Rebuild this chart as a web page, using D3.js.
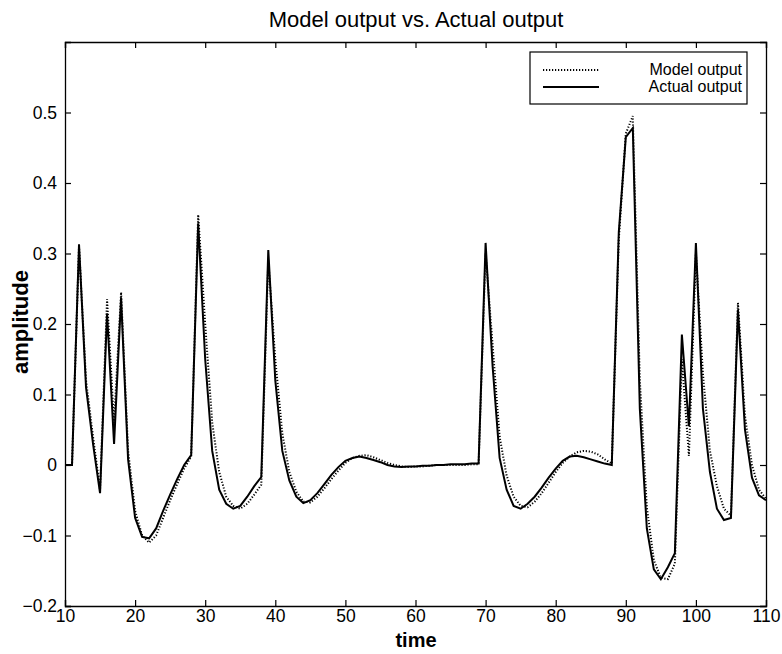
<!DOCTYPE html>
<html>
<head>
<meta charset="utf-8">
<script src="https://cdn.jsdelivr.net/npm/d3@7"></script>
<style>
  body { margin: 0; background: #fff; }
  text { font-family: "Liberation Sans", Arial, sans-serif; fill: #000; }
</style>
</head>
<body>
<svg id="chart" width="782" height="654"></svg>
<script>
const times = [10, 11, 12, 13, 14, 15, 16, 17, 18, 19, 20, 21, 22, 23, 24, 25, 26, 27, 28, 29,
    30, 31, 32, 33, 34, 35, 36, 37, 38, 39, 40, 41, 42, 43, 44, 45, 46, 47, 48, 49,
    50, 51, 52, 53, 54, 55, 56, 57, 58, 59, 60, 61, 62, 63, 64, 65, 66, 67, 68, 69,
    70, 71, 72, 73, 74, 75, 76, 77, 78, 79, 80, 81, 82, 83, 84, 85, 86, 87, 88, 89,
    90, 91, 92, 93, 94, 95, 96, 97, 98, 99, 100, 101, 102, 103, 104, 105, 106, 107, 108, 109, 110];

const actualOutput = [0, 0, 0.313, 0.11, 0.03, -0.04, 0.215, 0.03, 0.237, 0.008,
    -0.075, -0.102, -0.104, -0.09, -0.065, -0.042, -0.02, 0.0, 0.014, 0.343,
    0.15, 0.02, -0.035, -0.055, -0.062, -0.058, -0.045, -0.03, -0.017, 0.305,
    0.12, 0.02, -0.022, -0.045, -0.054, -0.05, -0.04, -0.027, -0.014, -0.003,
    0.006, 0.01, 0.012, 0.01, 0.007, 0.004, 0.0, -0.002, -0.003, -0.002,
    -0.002, -0.001, -0.001, 0.0, 0.0, 0.001, 0.001, 0.001, 0.002, 0.002,
    0.315, 0.14, 0.01, -0.035, -0.058, -0.062, -0.055, -0.045, -0.032, -0.018,
    -0.005, 0.006, 0.012, 0.013, 0.011, 0.008, 0.005, 0.002, 0.0, 0.33,
    0.465, 0.478, 0.08, -0.09, -0.148, -0.162, -0.145, -0.125, 0.185, 0.055,
    0.315, 0.08, -0.01, -0.062, -0.078, -0.075, 0.22, 0.05, -0.018, -0.043, -0.05];

const modelOutput = [0, 0, 0.31, 0.12, 0.04, -0.035, 0.235, 0.06, 0.245, 0.02,
    -0.065, -0.1, -0.11, -0.1, -0.075, -0.05, -0.027, -0.005, 0.012, 0.355,
    0.2, 0.06, -0.01, -0.045, -0.058, -0.062, -0.055, -0.042, -0.028, 0.29,
    0.15, 0.045, -0.01, -0.038, -0.052, -0.053, -0.045, -0.033, -0.02, -0.008,
    0.003, 0.01, 0.013, 0.014, 0.011, 0.007, 0.003, 0.0, -0.002, -0.003,
    -0.002, -0.002, -0.001, 0, 0, 0, 0, 0, 0.001, 0.001,
    0.3, 0.17, 0.04, -0.015, -0.045, -0.058, -0.06, -0.052, -0.04, -0.025,
    -0.01, 0.003, 0.012, 0.018, 0.02, 0.019, 0.015, 0.008, 0.002, 0.32,
    0.47, 0.495, 0.12, -0.06, -0.135, -0.16, -0.162, -0.14, 0.15, 0.013,
    0.3, 0.13, 0.02, -0.03, -0.062, -0.072, 0.23, 0.07, 0.0, -0.035, -0.048];

const xTicks = [10, 20, 30, 40, 50, 60, 70, 80, 90, 100, 110];
const yTicks = [-0.2, -0.1, 0, 0.1, 0.2, 0.3, 0.4, 0.5];
const seriesNames = ['Model output', 'Actual output'];

const svg = d3.select('#chart');
const m = {left: 65, right: 766, top: 42, bottom: 606};

const x = d3.scaleLinear().domain([10, 110]).range([m.left, m.right]);
const y = d3.scaleLinear().domain([-0.2, 0.6]).range([m.bottom, m.top]);

const fmt = d => d === 0 ? '0' : d3.format('.1f')(d).replace('-', '\u2212');

// bottom axis with inward ticks
const xAxis = svg.append('g')
    .attr('transform', `translate(0,${m.bottom})`)
    .call(d3.axisBottom(x).tickValues(xTicks).tickSize(-6).tickPadding(4).tickFormat(d3.format('d')));
// top mirror ticks
const xTop = svg.append('g')
    .attr('transform', `translate(0,${m.top})`)
    .call(d3.axisTop(x).tickValues(xTicks).tickSize(-6).tickFormat(''));
const yAxis = svg.append('g')
    .attr('transform', `translate(${m.left},0)`)
    .call(d3.axisLeft(y).tickValues(yTicks).tickSize(-6).tickPadding(8).tickFormat(fmt));
const yRight = svg.append('g')
    .attr('transform', `translate(${m.right},0)`)
    .call(d3.axisRight(y).tickValues(yTicks).tickSize(-6).tickFormat(''));

[xAxis, xTop, yAxis, yRight].forEach(g => {
    g.select('.domain').attr('stroke', '#000').attr('stroke-width', 1.3);
    g.selectAll('.tick line').attr('stroke', '#000').attr('stroke-width', 1.2);
    g.selectAll('text').attr('font-size', 17.5).style('font-family', '"Liberation Sans", Arial, sans-serif');
});

// lines
const line = d3.line()
    .x((d, i) => x(times[i]))
    .y(d => y(d));

svg.append('path')
    .datum(modelOutput)
    .attr('d', line)
    .attr('fill', 'none')
    .attr('stroke', '#000')
    .attr('stroke-width', 2)
    .attr('stroke-dasharray', '1.2,1.8');

svg.append('path')
    .datum(actualOutput)
    .attr('d', line)
    .attr('fill', 'none')
    .attr('stroke', '#000')
    .attr('stroke-width', 2);

// legend
const lg = svg.append('g');
lg.append('rect')
    .attr('x', 530).attr('y', 52).attr('width', 217).attr('height', 52)
    .attr('fill', '#fff').attr('stroke', '#000').attr('stroke-width', 1.2);
seriesNames.forEach((name, i) => {
    const yy = 70 + i * 17;
    lg.append('line')
        .attr('x1', 543).attr('x2', 599).attr('y1', yy).attr('y2', yy)
        .attr('stroke', '#000')
        .attr('stroke-width', 2)
        .attr('stroke-dasharray', i === 0 ? '1.2,1.8' : null);
    lg.append('text')
        .attr('x', 742).attr('y', yy + 5)
        .attr('text-anchor', 'end')
        .attr('font-size', 16)
        .text(name);
});

// titles
svg.append('text')
    .attr('x', 416).attr('y', 27)
    .attr('text-anchor', 'middle')
    .attr('font-size', 22)
    .text('Model output vs. Actual output');

svg.append('text')
    .attr('x', 416).attr('y', 647)
    .attr('text-anchor', 'middle')
    .attr('font-size', 20)
    .attr('font-weight', 'bold')
    .text('time');

svg.append('text')
    .attr('transform', 'translate(28,322) rotate(-90)')
    .attr('text-anchor', 'middle')
    .attr('font-size', 22)
    .attr('font-weight', 'bold')
    .text('amplitude');
</script>
</body>
</html>
